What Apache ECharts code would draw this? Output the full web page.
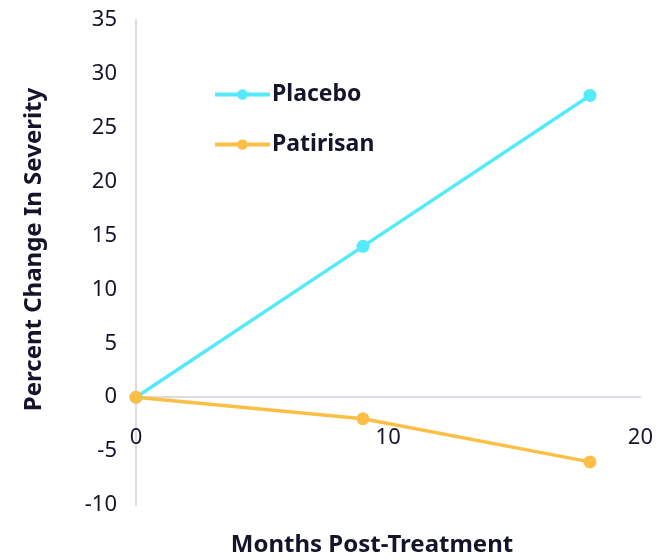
<!DOCTYPE html>
<html>
<head>
<meta charset="utf-8">
<script src="https://cdn.jsdelivr.net/npm/echarts@6/dist/echarts.min.js"></script>
<style>
    html, body { margin: 0; padding: 0; background: #fff; }
    #main { width: 656px; height: 559px; }
</style>
</head>
<body>
<div id="main"></div>
<script>
// data
var months = [0, 9, 18];
var placebo = [0, 14, 28];
var patirisan = [0, -2, -6];

var textColor = '#14142b';
var fontName = 'Noto Sans';

var chart = echarts.init(document.getElementById('main'));
var option = {
    animation: false,
    backgroundColor: '#fff',
    grid: {
        left: 136,
        right: 12,
        top: 20,
        bottom: 54
    },
    title: {
        text: 'Months Post-Treatment',
        left: 367,
        top: 528,
        textAlign: 'center',
        textStyle: {
            color: textColor,
            fontFamily: fontName,
            fontSize: 24,
            fontWeight: 'bold'
        }
    },
    legend: {
        orient: 'vertical',
        left: 213,
        top: 83,
        padding: 0,
        itemGap: 27,
        itemWidth: 55,
        itemHeight: 13,
        lineStyle: { width: 4 },
        textStyle: {
            color: textColor,
            fontFamily: fontName,
            fontSize: 23,
            fontWeight: 'bold',
            padding: [0, 0, 0, -3]
        },
        data: ['Placebo', 'Patirisan']
    },
    xAxis: {
        type: 'value',
        min: 0,
        max: 20,
        interval: 10,
        // axis sits on y = 0 : 108px above the grid bottom
        offset: -108,
        axisLine: {
            onZero: false,
            lineStyle: { color: '#dcdce2', width: 2 }
        },
        axisTick: { show: false },
        splitLine: { show: false },
        axisLabel: {
            margin: 30,
            color: textColor,
            fontFamily: fontName,
            fontSize: 22
        }
    },
    yAxis: {
        type: 'value',
        min: -10,
        max: 35,
        interval: 5,
        name: 'Percent Change In Severity',
        nameLocation: 'middle',
        nameGap: 90,
        nameTextStyle: {
            color: textColor,
            fontFamily: fontName,
            fontSize: 24,
            fontWeight: 'bold',
            padding: [0, 0, 0, 26]
        },
        axisLine: {
            show: true,
            lineStyle: { color: '#dcdce2', width: 2 }
        },
        axisTick: { show: false },
        splitLine: { show: false },
        axisLabel: {
            margin: 19,
            color: textColor,
            fontFamily: fontName,
            fontSize: 22
        }
    },
    series: [
        {
            name: 'Placebo',
            type: 'line',
            data: months.map(function (m, i) { return [m, placebo[i]]; }),
            symbol: 'circle',
            symbolSize: 13,
            lineStyle: { color: '#55eaf9', width: 3.5 },
            itemStyle: { color: '#55eaf9' }
        },
        {
            name: 'Patirisan',
            type: 'line',
            data: months.map(function (m, i) { return [m, patirisan[i]]; }),
            symbol: 'circle',
            symbolSize: 13,
            lineStyle: { color: '#fbbf45', width: 3.5 },
            itemStyle: { color: '#fbbf45' }
        }
    ]
};
chart.setOption(option);
</script>
</body>
</html>
